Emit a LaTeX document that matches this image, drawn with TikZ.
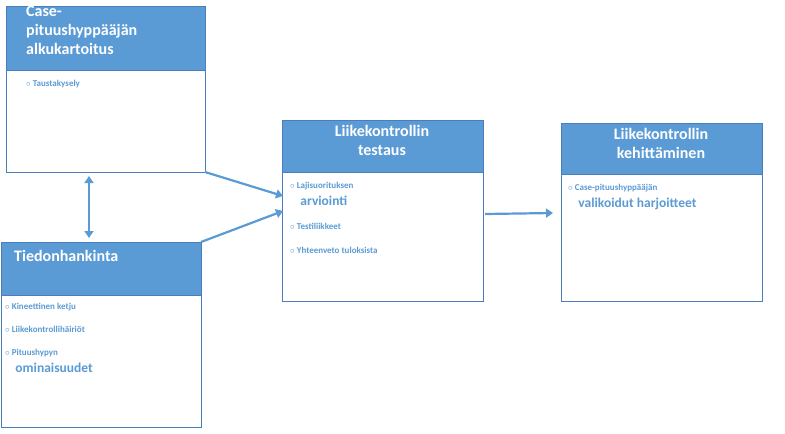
\documentclass[tikz,border=0pt]{standalone}
\usepackage{fontspec}
\setmainfont{Carlito}
\usetikzlibrary{arrows.meta}
\definecolor{hb}{HTML}{5B9BD5}
\definecolor{bd}{HTML}{4A7EBB}
\begin{document}
\begin{tikzpicture}[x=1pt,y=-1pt,
 boxbody/.style={draw=bd,line width=1pt,fill=white,anchor=north west,inner sep=0pt},
 head/.style={draw=bd,line width=1pt,fill=hb,anchor=north west,inner sep=0pt},
 htxt/.style={anchor=north west,text=white,font=\bfseries\fontsize{16}{19}\selectfont,align=left,inner sep=0pt},
 btxt/.style={anchor=north west,text=hb,font=\bfseries\fontsize{13.5}{17}\selectfont,align=left,inner sep=0pt},
 arr/.style={draw=hb,line width=2.2pt,-{Triangle[length=7pt,width=9pt]}},
 darr/.style={draw=hb,line width=2.2pt,{Triangle[length=7pt,width=9pt]}-{Triangle[length=7pt,width=9pt]}}]
\useasboundingbox (0,0) rectangle (785,434);
% box 1
\node[boxbody,minimum width=199pt,minimum height=166pt] (b1) at (6,6) {};
\node[head,minimum width=199pt,minimum height=64pt] (h1) at (6,6) {};
\node[htxt] (t1) at (26,6) {Case-\\pituushyppääjän\\alkukartoitus};
\node[btxt] (l1) at (26,80) {\small$\circ$ Taustakysely};
% box 2
\node[boxbody,minimum width=200pt,minimum height=185pt] (b2) at (1,242) {};
\node[head,minimum width=200pt,minimum height=53pt] (h2) at (1,242) {};
\node[htxt] (t2) at (14,250) {Tiedonhankinta};
\node[btxt] (l2) at (5,303) {\small$\circ$ Kineettinen ketju\\[6pt]\small$\circ$ Liikekontrollihäiriöt\\[6pt]\small$\circ$ Pituushypyn\\\phantom{$\circ$ }ominaisuudet};
% box 3
\node[boxbody,minimum width=201pt,minimum height=181pt] (b3) at (282,120) {};
\node[head,minimum width=201pt,minimum height=52pt] (h3) at (282,120) {};
\node[htxt,anchor=north,align=center] (t3) at (382,125) {Liikekontrollin\\testaus};
\node[btxt] (l3) at (290,182) {\small$\circ$ Lajisuorituksen\\\phantom{$\circ$ }arviointi\\[7pt]\small$\circ$ Testiliikkeet\\[7pt]\small$\circ$ Yhteenveto tuloksista};
% box 4
\node[boxbody,minimum width=201pt,minimum height=178pt] (b4) at (561,123) {};
\node[head,minimum width=201pt,minimum height=51pt] (h4) at (561,123) {};
\node[htxt,anchor=north,align=center] (t4) at (661,128) {Liikekontrollin\\kehittäminen};
\node[btxt] (l4) at (568,184) {\small$\circ$ Case-pituushyppääjän\\\phantom{$\circ$ }valikoidut harjoitteet};
% arrows
\coordinate (a1s) at (205,172); \coordinate (a1e) at (283,196);
\coordinate (a2s) at (201,242); \coordinate (a2e) at (283,211);
\coordinate (a3s) at (89,176); \coordinate (a3e) at (89,238);
\coordinate (a4s) at (485,214); \coordinate (a4e) at (553,213);
\draw[arr] (a1s) -- (a1e);
\draw[arr] (a2s) -- (a2e);
\draw[darr] (a3s) -- (a3e);
\draw[arr] (a4s) -- (a4e);
\end{tikzpicture}
\end{document}
